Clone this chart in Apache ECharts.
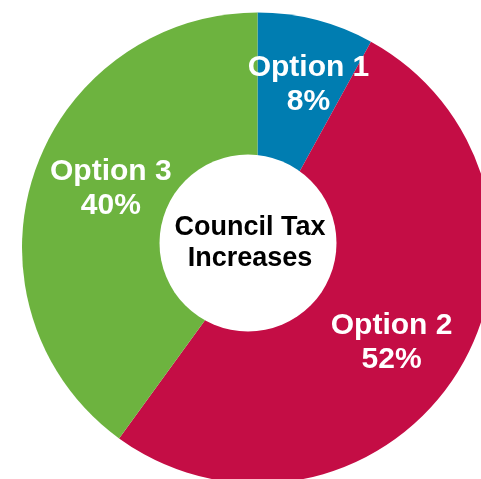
<!DOCTYPE html>
<html>
<head>
<meta charset="utf-8">
<script src="https://cdn.jsdelivr.net/npm/echarts@6/dist/echarts.min.js"></script>
<style>
  html, body { margin: 0; padding: 0; background: #ffffff; }
  #chart { width: 481px; height: 479px; }
</style>
</head>
<body>
<div id="chart"></div>
<script>
// Council tax survey results
const categories = ['Option 1', 'Option 2', 'Option 3'];
const shares = [8, 52, 40];
const centreTitle = 'Council Tax\nIncreases';

// Presentation
const sliceColors = ['#007DB1', '#C40D45', '#6DB33F'];
const labelNudge = [[10, -4], [-5, 6], [10, -8]];

const slices = categories.map((name, i) => ({
  name: name,
  value: shares[i],
  itemStyle: { color: sliceColors[i] }
}));

const labelSlices = categories.map((name, i) => ({
  name: name,
  value: shares[i],
  label: { offset: labelNudge[i] }
}));

const chart = echarts.init(document.getElementById('chart'), null, { renderer: 'canvas' });

chart.setOption({
  animation: false,
  backgroundColor: '#ffffff',
  series: [
    {
      type: 'pie',
      center: [257.5, 248],
      radius: [0, 235.5],
      startAngle: 90,
      clockwise: true,
      silent: true,
      label: { show: false },
      labelLine: { show: false },
      itemStyle: { borderWidth: 0 },
      data: slices
    },
    {
      // transparent ring that carries the slice labels
      type: 'pie',
      center: [257.5, 248],
      radius: [88, 235.5],
      startAngle: 90,
      clockwise: true,
      silent: true,
      z: 5,
      itemStyle: { color: 'rgba(0,0,0,0)', borderWidth: 0 },
      labelLine: { show: false },
      label: {
        show: true,
        position: 'inside',
        formatter: p => p.name + '\n' + p.value + '%',
        color: '#ffffff',
        fontFamily: '"Liberation Sans", Arial, sans-serif',
        fontWeight: 'bold',
        fontSize: 30,
        lineHeight: 34,
        align: 'center'
      },
      data: labelSlices
    }
  ],
  graphic: [
    {
      type: 'circle',
      z: 100,
      shape: { cx: 248, cy: 243, r: 88.5 },
      style: { fill: '#ffffff' }
    },
    {
      type: 'text',
      z: 101,
      x: 250,
      y: 243,
      style: {
        text: centreTitle,
        fill: '#000000',
        font: 'bold 27px "Liberation Sans", Arial, sans-serif',
        lineHeight: 31,
        align: 'center',
        verticalAlign: 'middle'
      }
    }
  ]
});
</script>
</body>
</html>
